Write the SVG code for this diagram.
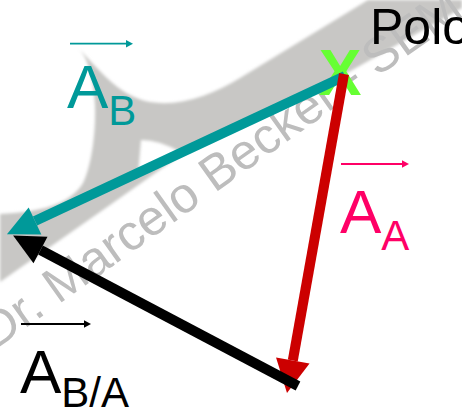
<svg xmlns="http://www.w3.org/2000/svg" width="462" height="411" viewBox="0 0 462 411">
  <style>
    .lbl { font-family: "Liberation Sans", Arial, sans-serif; }
    .big { font-size: 62px; }
    .sub { font-size: 42px; }
    .wm { font-family: "Liberation Sans", Arial, sans-serif; font-size: 50px; fill: #bdbdbd; }
    .vec { stroke-width: 10; fill: none; stroke-linecap: butt; }
    .small { stroke-width: 1.8; fill: none; }
  </style>
  <defs>
    <filter id="soft" x="-5%" y="-5%" width="110%" height="110%">
      <feGaussianBlur stdDeviation="1.6"/>
    </filter>
    <marker id="hTeal" markerUnits="userSpaceOnUse" viewBox="0 -16 34 32" markerWidth="34" markerHeight="32" refX="0" refY="0" orient="auto" overflow="visible">
      <path d="M0,-15 L31,0 L0,15 Z" fill="#009999"/>
    </marker>
    <marker id="hRed" markerUnits="userSpaceOnUse" viewBox="0 -18 36 36" markerWidth="36" markerHeight="36" refX="0" refY="0" orient="auto" overflow="visible">
      <path d="M0,-17 L33,0 L0,17 Z" fill="#cc0000"/>
    </marker>
    <marker id="hBlack" markerUnits="userSpaceOnUse" viewBox="0 -16 34 32" markerWidth="34" markerHeight="32" refX="0" refY="0" orient="auto" overflow="visible">
      <path d="M0,-15 L31,0 L0,15 Z" fill="#000000"/>
    </marker>
    <marker id="sTeal" markerUnits="userSpaceOnUse" viewBox="0 -4 8 8" markerWidth="8" markerHeight="8" refX="0" refY="0" orient="auto" overflow="visible">
      <path d="M0,-3.7 L7,0 L0,3.7 Z" fill="#009999"/>
    </marker>
    <marker id="sPink" markerUnits="userSpaceOnUse" viewBox="0 -4 8 8" markerWidth="8" markerHeight="8" refX="0" refY="0" orient="auto" overflow="visible">
      <path d="M0,-3.7 L7,0 L0,3.7 Z" fill="#ff0066"/>
    </marker>
    <marker id="sBlack" markerUnits="userSpaceOnUse" viewBox="0 -4 8 8" markerWidth="8" markerHeight="8" refX="0" refY="0" orient="auto" overflow="visible">
      <path d="M0,-3.7 L7,0 L0,3.7 Z" fill="#000000"/>
    </marker>
  </defs>

  <rect x="0" y="0" width="462" height="411" fill="#ffffff"/>

  <g id="watermark">
    <path filter="url(#soft)" fill="#c8c7c5" d="M 80,50 C 98,68 118,96 150,102 C 180,107 212,95 240,78 L 368,0 L 462,0 L 462,8 L 340,77 L 180,152 Q 160,140 141,140 L 138,175 L 185,152 L 110,205 L 0,282 L 0,214 C 40,212 70,205 83,183 C 92,165 96,130 95,105 C 94,85 90,62 80,50 Z"/>
    <text class="wm" transform="translate(-5,350) rotate(-35.5)">Dr. Marcelo Becker - SEM</text>
  </g>

  <g id="polo">
    <text class="lbl" x="370" y="44" font-size="50" fill="#000000">Polo</text>
    <text class="lbl" x="340" y="95" font-size="64" font-weight="bold" fill="#66ff33" text-anchor="middle">X</text>
  </g>

  <g id="connectors">
    <path id="vecAB" class="vec" stroke="#009999" d="M 345,76 L 35,221" marker-end="url(#hTeal)"/>
    <path id="vecAA" class="vec" stroke="#cc0000" stroke-width="12" d="M 344,74 L 292.8,360.5" marker-end="url(#hRed)"/>
    <path id="vecBA" class="vec" stroke="#000000" stroke-width="12" d="M 298,386 L 40.5,250" marker-end="url(#hBlack)"/>
  </g>

  <g id="label-AB">
    <path class="small" stroke="#009999" d="M 70,43.7 L 126,43.7" marker-end="url(#sTeal)"/>
    <text class="lbl" x="67" y="108" fill="#009999"><tspan class="big">A</tspan><tspan class="sub" dy="17">B</tspan></text>
  </g>

  <g id="label-AA">
    <path class="small" stroke="#ff0066" d="M 341,164 L 402,164" marker-end="url(#sPink)"/>
    <text class="lbl" x="340" y="233" fill="#ff0066"><tspan class="big">A</tspan><tspan class="sub" dy="17">A</tspan></text>
  </g>

  <g id="label-BA">
    <path class="small" stroke="#000000" d="M 21,324 L 84,324" marker-end="url(#sBlack)"/>
    <text class="lbl" x="20" y="393" fill="#000000"><tspan class="big">A</tspan><tspan class="sub" dy="14">B/A</tspan></text>
  </g>
</svg>
